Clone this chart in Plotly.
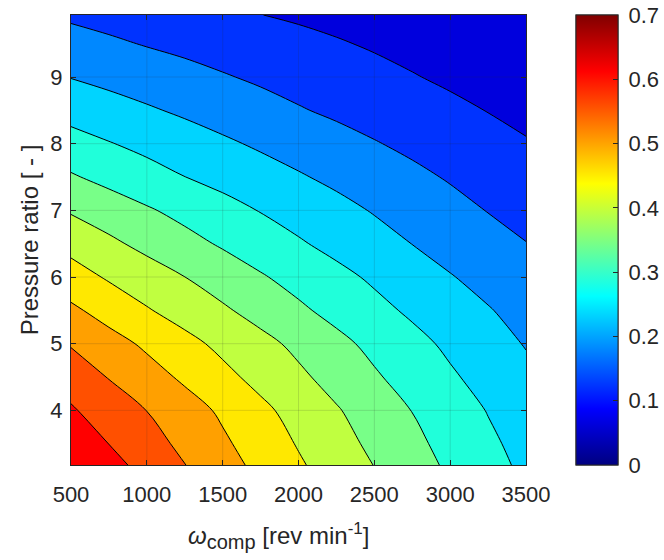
import plotly.graph_objects as go

# ---------------- data ----------------
omega_comp = [500, 750, 1000, 1250, 1500, 1750, 2000, 2250, 2500, 2750, 3000, 3250, 3500]
pressure_ratio = [3.18, 3.5, 4.0, 4.5, 5.0, 5.5, 6.0, 6.5, 7.0, 7.5, 8.0, 8.5, 9.0, 9.5, 9.93]

# rows follow pressure_ratio, columns follow omega_comp
efficiency = [
    [0.599, 0.566, 0.534, 0.501, 0.469, 0.437, 0.406, 0.377, 0.349, 0.320, 0.292, 0.266, 0.240],
    [0.580, 0.5495, 0.519, 0.4885, 0.458, 0.427, 0.3966, 0.368, 0.3396, 0.3115, 0.2848, 0.2589, 0.2344],
    [0.555, 0.527, 0.4994, 0.471, 0.442, 0.411, 0.382, 0.354, 0.326, 0.299, 0.273, 0.248, 0.226],
    [0.5297, 0.4977, 0.4698, 0.4417, 0.4128, 0.3854, 0.3591, 0.3325, 0.3057, 0.2807, 0.2562, 0.2335, 0.2115],
    [0.496, 0.4687, 0.4415, 0.4142, 0.3883, 0.3639, 0.3388, 0.3126, 0.2877, 0.264, 0.2409, 0.2187, 0.1973],
    [0.4594, 0.4306, 0.4038, 0.380, 0.3567, 0.3326, 0.3082, 0.2854, 0.2634, 0.2422, 0.2225, 0.2027, 0.1848],
    [0.4202, 0.3947, 0.3725, 0.3502, 0.3273, 0.3044, 0.2834, 0.2629, 0.2425, 0.2225, 0.2024, 0.1857, 0.1695],
    [0.3848, 0.3596, 0.3368, 0.3154, 0.2945, 0.2748, 0.2551, 0.2362, 0.2178, 0.1994, 0.1832, 0.1671, 0.151],
    [0.3451, 0.3252, 0.3052, 0.2859, 0.2668, 0.248, 0.2309, 0.2138, 0.1968, 0.1806, 0.1644, 0.1485, 0.1358],
    [0.3049, 0.2859, 0.2681, 0.2504, 0.235, 0.2197, 0.2044, 0.1896, 0.1749, 0.1603, 0.146, 0.1328, 0.1196],
    [0.2691, 0.2524, 0.2373, 0.2224, 0.2075, 0.1933, 0.1798, 0.1662, 0.1527, 0.1401, 0.1278, 0.1155, 0.1032],
    [0.2317, 0.2186, 0.2055, 0.1925, 0.1795, 0.1664, 0.1534, 0.142, 0.1312, 0.1204, 0.1096, 0.0988, 0.0888],
    [0.1985, 0.1873, 0.176, 0.1648, 0.1535, 0.143, 0.1329, 0.1227, 0.1126, 0.1024, 0.0927, 0.0831, 0.0735],
    [0.1683, 0.1574, 0.1472, 0.1385, 0.1298, 0.1211, 0.1124, 0.1037, 0.0952, 0.0869, 0.0785, 0.0702, 0.0619],
    [0.1423, 0.134, 0.1256, 0.1173, 0.1089, 0.1005, 0.0939, 0.0874, 0.081, 0.0745, 0.068, 0.0615, 0.055],
]

contour_start = 0.10
contour_end = 0.55
contour_step = 0.05

x_ticks = [500, 1000, 1500, 2000, 2500, 3000, 3500]
y_ticks = [4, 5, 6, 7, 8, 9]
cbar_ticks = [0, 0.1, 0.2, 0.3, 0.4, 0.5, 0.6, 0.7]
cbar_labels = ["0", "0.1", "0.2", "0.3", "0.4", "0.5", "0.6", "0.7"]

x_title = ("<i>ω</i><sub><span style=\"font-size:20px\">comp</span></sub>"
           " [rev min<sup><span style=\"font-size:17px\">-1</span></sup>]")
y_title = "Pressure ratio [ - ]"

# ---------------- styles ----------------
band_colors = [
    "rgb(0,0,221)", "rgb(0,51,255)", "rgb(0,136,255)", "rgb(0,212,255)",
    "rgb(32,255,218)", "rgb(120,255,136)", "rgb(192,255,64)", "rgb(255,232,0)",
    "rgb(255,160,0)", "rgb(255,80,0)", "rgb(255,0,0)",
]
band_scale = [[k / (len(band_colors) - 1), c] for k, c in enumerate(band_colors)]

jet = [
    [0.0, "rgb(0,0,128)"],
    [0.125, "rgb(0,0,255)"],
    [0.375, "rgb(0,255,255)"],
    [0.625, "rgb(255,255,0)"],
    [0.875, "rgb(255,0,0)"],
    [1.0, "rgb(128,0,0)"],
]

FONT = "Liberation Sans, Arial, Helvetica, sans-serif"
DARK = "#262626"
TICK_SIZE = 22
TITLE_SIZE = 24

fig = go.Figure()
fig.add_trace(go.Contour(
    x=omega_comp, y=pressure_ratio, z=efficiency,
    autocontour=False,
    contours=dict(start=contour_start, end=contour_end, size=contour_step, coloring="fill"),
    colorscale=band_scale,
    line=dict(color="black", width=1, smoothing=1),
    showscale=False,
    hoverinfo="skip",
))

cbar_common = dict(
    x=1.11, xanchor="left", xref="paper", y=0.5, yanchor="middle",
    len=1.0, lenmode="fraction", thickness=42, thicknessmode="pixels",
    xpad=0, ypad=0, outlinewidth=1, outlinecolor=DARK,
    tickmode="array", tickvals=cbar_ticks, ticktext=cbar_labels,
    tickfont=dict(family=FONT, size=TICK_SIZE, color=DARK),
)

# continuous colour bar (MATLAB jet, 0 - 0.7): labels pushed out a little
fig.add_trace(go.Scatter(
    x=[None], y=[None], mode="markers", showlegend=False, hoverinfo="skip",
    marker=dict(
        color=[0], colorscale=jet, cmin=0, cmax=0.7, showscale=True,
        colorbar=dict(**cbar_common, ticks="outside", ticklen=6,
                      tickcolor="rgba(0,0,0,0)"),
    ),
))
# same bar again, only for the small inside tick marks
fig.add_trace(go.Scatter(
    x=[None], y=[None], mode="markers", showlegend=False, hoverinfo="skip",
    marker=dict(
        color=[0], colorscale=jet, cmin=0, cmax=0.7, showscale=True,
        colorbar=dict(**cbar_common, ticks="inside", ticklen=5, tickcolor=DARK,
                      showticklabels=False),
    ),
))

# grid lines drawn on top of the filled contours (MATLAB style)
grid_color = "rgba(38,38,38,0.15)"
for xv in x_ticks[1:-1]:
    fig.add_shape(type="line", xref="x", yref="paper", x0=xv, x1=xv, y0=0, y1=1,
                  line=dict(color=grid_color, width=1), layer="above")
for yv in y_ticks:
    fig.add_shape(type="line", xref="paper", yref="y", x0=0, x1=1, y0=yv, y1=yv,
                  line=dict(color=grid_color, width=1), layer="above")

fig.add_annotation(
    text=x_title, xref="paper", yref="paper", x=0.455, y=-0.158,
    xanchor="center", yanchor="middle", showarrow=False,
    font=dict(family=FONT, size=TITLE_SIZE, color=DARK),
)

fig.update_layout(
    width=664, height=560,
    margin=dict(l=71, r=138, t=15, b=95, autoexpand=False),
    paper_bgcolor="white", plot_bgcolor="white",
    font=dict(family=FONT, size=TICK_SIZE, color=DARK),
    showlegend=False,
    xaxis=dict(
        range=[500, 3500], tickmode="array", tickvals=x_ticks, automargin=False,
        ticks="inside", ticklen=5, tickcolor=DARK, showgrid=False, zeroline=False,
        showline=True, linecolor=DARK, linewidth=1, mirror="ticks",
        tickfont=dict(family=FONT, size=TICK_SIZE, color=DARK), ticklabelstandoff=10,
    ),
    yaxis=dict(
        range=[3.18, 9.93], tickmode="array", tickvals=y_ticks, automargin=False,
        ticks="inside", ticklen=5, tickcolor=DARK, showgrid=False, zeroline=False,
        showline=True, linecolor=DARK, linewidth=1, mirror="ticks",
        tickfont=dict(family=FONT, size=TICK_SIZE, color=DARK), ticklabelstandoff=3,
        title=dict(text=y_title,
                   font=dict(family=FONT, size=TITLE_SIZE, color=DARK), standoff=4),
    ),
)

fig.write_html(
    "out.html",
    config={"displayModeBar": False, "staticPlot": True},
    post_script="document.body.style.margin='0px';document.body.style.overflow='hidden';",
)
